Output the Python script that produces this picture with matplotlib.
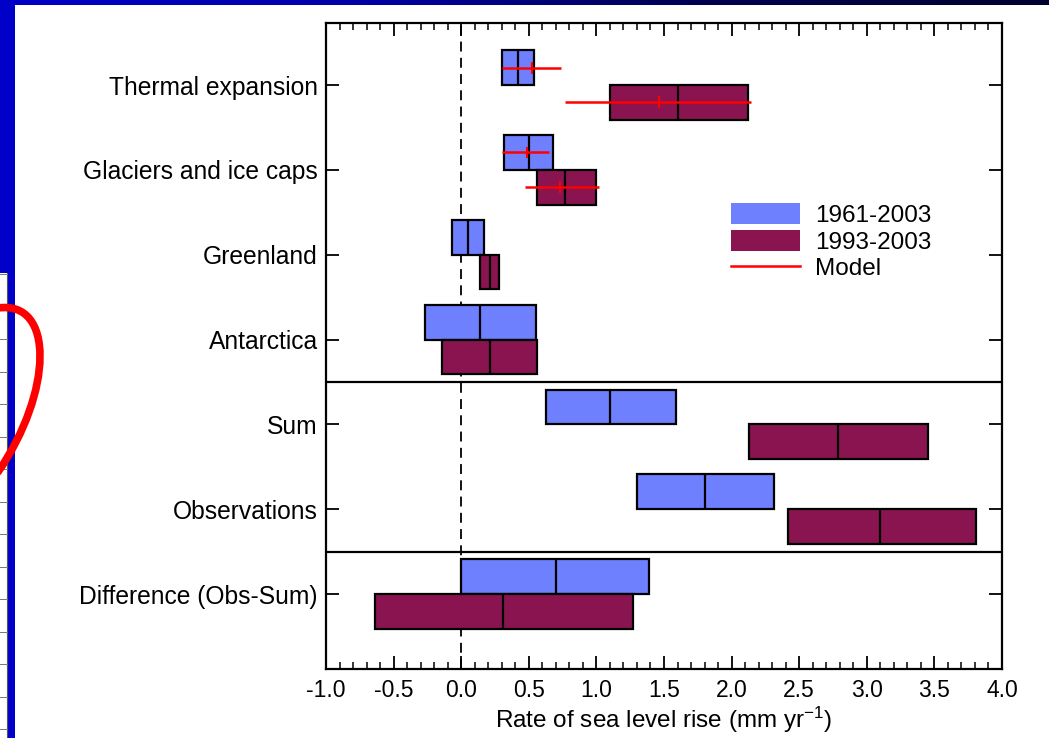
import numpy as np
import matplotlib
matplotlib.use("Agg")
import matplotlib.pyplot as plt
from matplotlib.patches import Rectangle, PathPatch, Patch
from matplotlib.lines import Line2D
from matplotlib.path import Path
from matplotlib.transforms import IdentityTransform
from matplotlib.ticker import MultipleLocator, FormatStrFormatter
from matplotlib.colors import LinearSegmentedColormap

plt.rcParams['font.family'] = ['Liberation Sans', 'DejaVu Sans']
plt.rcParams['axes.unicode_minus'] = False
plt.rcParams['mathtext.fontset'] = 'custom'
plt.rcParams['mathtext.rm'] = 'Liberation Sans'
plt.rcParams['mathtext.it'] = 'Liberation Sans'

# ---------------- data ----------------
categories = ["Thermal expansion", "Glaciers and ice caps", "Greenland",
              "Antarctica", "Sum", "Observations", "Difference (Obs-Sum)"]

p1961_center = [0.42, 0.50, 0.05, 0.14, 1.10, 1.80, 0.70]
p1961_low    = [0.30, 0.32, -0.07, -0.27, 0.63, 1.30, 0.00]
p1961_high   = [0.54, 0.68, 0.17, 0.55, 1.59, 2.31, 1.39]

p1993_center = [1.60, 0.77, 0.21, 0.21, 2.79, 3.10, 0.31]
p1993_low    = [1.10, 0.56, 0.14, -0.14, 2.13, 2.42, -0.64]
p1993_high   = [2.12, 1.00, 0.28, 0.56, 3.45, 3.81, 1.27]

model_cats = ["Thermal expansion", "Glaciers and ice caps"]
model1961_center = [0.52, 0.49]
model1961_low    = [0.30, 0.30]
model1961_high   = [0.74, 0.65]
model1993_center = [1.46, 0.73]
model1993_low    = [0.77, 0.47]
model1993_high   = [2.14, 1.02]

series_labels = ["1961-2003", "1993-2003", "Model"]

# ---------------- style ----------------
BLUE = "#6F80FF"
PURPLE = "#8A1450"
RED = "#FF0000"
H = 0.41
W = 1049
Hpx = 738

fig = plt.figure(figsize=(W / 100, Hpx / 100), dpi=100)
fig.patch.set_facecolor("white")

ax = fig.add_axes([326 / W, 1 - 669 / Hpx, (1002 - 326) / W, (669 - 23) / Hpx])

y = np.arange(len(categories))
lw = 1.6

ax.barh(y - H, np.array(p1961_high) - np.array(p1961_low), left=p1961_low,
        height=H, align='edge', color=BLUE, edgecolor='black', linewidth=lw, zorder=3)
ax.barh(y, np.array(p1993_high) - np.array(p1993_low), left=p1993_low,
        height=H, align='edge', color=PURPLE, edgecolor='black', linewidth=lw, zorder=3)
ax.vlines(p1961_center, y - H, y, color='black', linewidth=lw, zorder=4)
ax.vlines(p1993_center, y, y + H, color='black', linewidth=lw, zorder=4)

ym = np.array([categories.index(c) for c in model_cats])
for ctr, lo, hi, yy in [(model1961_center, model1961_low, model1961_high, ym - H / 2),
                        (model1993_center, model1993_low, model1993_high, ym + H / 2)]:
    ax.hlines(yy, lo, hi, color=RED, linewidth=1.8, zorder=5)
    ax.vlines(ctr, yy - 0.07, yy + 0.07, color=RED, linewidth=1.5, zorder=5)

ax.axvline(0, color='black', linestyle=(0, (5.5, 3.5)), linewidth=1.3, zorder=2)
for s in (3.5, 5.5):
    ax.axhline(s, color='black', linewidth=1.6, zorder=2)

ax.set_xlim(-1.0, 4.0)
ax.set_ylim(6.884, -0.731)
ax.xaxis.set_major_locator(MultipleLocator(0.5))
ax.xaxis.set_minor_locator(MultipleLocator(0.1))
ax.xaxis.set_major_formatter(FormatStrFormatter('%.1f'))
ax.set_yticks(y)
ax.set_yticklabels(categories)
ax.tick_params(axis='x', which='major', direction='in', length=9.5, width=1.3,
               top=True, bottom=True, labelsize=16.5, pad=7, colors='black')
ax.tick_params(axis='x', which='minor', direction='in', length=5, width=1.1,
               top=True, bottom=True)
ax.tick_params(axis='y', which='major', direction='in', length=9.5, width=1.3,
               left=True, right=True, labelsize=17.7, pad=6)
for sp in ax.spines.values():
    sp.set_linewidth(1.6)
ax.set_xlabel(r'Rate of sea level rise (mm yr$^{\mathregular{-1}}$)', fontsize=17.5, labelpad=2)

handles = [Patch(facecolor=BLUE, edgecolor='none'),
           Patch(facecolor=PURPLE, edgecolor='none'),
           Line2D([], [], color=RED, linewidth=1.8)]
ax.legend(handles, series_labels, loc='upper left',
          bbox_to_anchor=((731 - 326) / 676, 1 - (203 - 23) / 646),
          frameon=False, fontsize=17.5, handlelength=2.85, handleheight=0.95,
          handletextpad=0.6, labelspacing=0.12, borderpad=0.0, borderaxespad=0.0)

# ---------------- screenshot frame decorations ----------------
tr = IdentityTransform()
fig.add_artist(Rectangle((0, 0), 15, Hpx, transform=tr, facecolor="#0000C8",
                         edgecolor='none', zorder=10))
gax = fig.add_axes([0, 1 - 5 / Hpx, 1, 5 / Hpx], zorder=11)
grad = np.linspace(0, 1, 256)[None, :]
cmap = LinearSegmentedColormap.from_list("frame", ["#0000C8", "#0000A8", "#000050", "#000030"])
gax.imshow(grad, aspect='auto', cmap=cmap, extent=(0, 1, 0, 1))
gax.set_axis_off()
fig.add_artist(Rectangle((0, 0), 7, Hpx - 273, transform=tr, facecolor="white",
                         edgecolor='none', zorder=11))
fig.add_artist(Line2D([7, 7], [0, Hpx - 273], transform=tr, color="#555555",
                      linewidth=0.8, zorder=12))
for k in range(15):
    yy = Hpx - (274 + 32.5 * k)
    if yy < 0:
        break
    fig.add_artist(Line2D([0, 7], [yy, yy], transform=tr, color="#777777",
                          linewidth=0.7, zorder=12))
verts = [(-2, Hpx - 308), (55, Hpx - 300), (53, Hpx - 392), (-2, Hpx - 472)]
codes = [Path.MOVETO, Path.CURVE4, Path.CURVE4, Path.CURVE4]
fig.add_artist(PathPatch(Path(verts, codes), transform=tr, facecolor='none',
                         edgecolor=RED, linewidth=5.5, zorder=13, capstyle='round'))

fig.savefig("out.png", dpi=100)
